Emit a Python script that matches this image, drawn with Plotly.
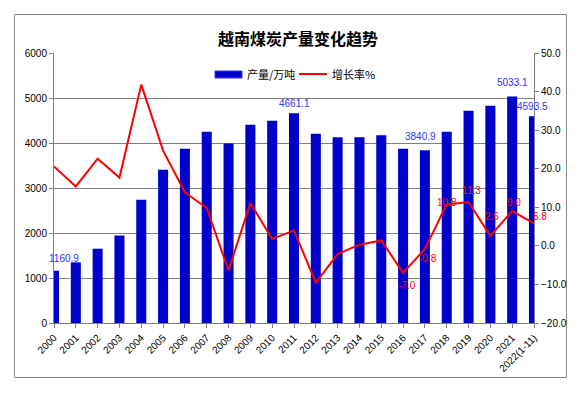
import plotly.graph_objects as go

years = ["2000", "2001", "2002", "2003", "2004", "2005", "2006", "2007", "2008", "2009",
         "2010", "2011", "2012", "2013", "2014", "2015", "2016", "2017", "2018", "2019",
         "2020", "2021", "2022(1-11)"]
output = [1160.9, 1347, 1651, 1947, 2740, 3407, 3873, 4251, 3991, 4407,
          4496, 4661.1, 4207, 4126, 4126, 4170, 3873, 3840.9, 4251, 4718,
          4829, 5033.1, 4593.5]
growth = [20.6, 15.4, 22.6, 17.7, 41.8, 24.7, 13.9, 9.8, -6.4, 11.1,
          1.8, 4.0, -9.6, -2.1, 0.3, 1.4, -7.0, -0.8, 10.8, 11.3,
          2.6, 9.0, 5.8]
bar_label_idx = [0, 11, 17, 21, 22]
line_label_idx = [16, 17, 18, 19, 20, 21, 22]

W, H = 582, 397
L, R, T, B = 54, 48, 53, 74
PW, PH = W - L - R, H - T - B

def px(x):
    return (x - L) / PW

def py(y):
    return (H - B - y) / PH

NUM_FONT = "Liberation Sans, Noto Sans CJK SC, sans-serif"
CJK_FONT = "Noto Sans CJK SC, sans-serif"
BLUE = "#0000CC"
RED = "#FF0000"

fig = go.Figure()
fig.add_trace(go.Bar(x=years, y=output, name="产量/万吨", marker=dict(color=BLUE, line=dict(width=0)),
                     yaxis="y", showlegend=False, hoverinfo="skip"))
fig.add_trace(go.Scatter(x=years, y=growth, name="增长率%", mode="lines",
                         line=dict(color=RED, width=2), yaxis="y2", showlegend=False, hoverinfo="skip"))

annotations = []
bar_offsets = {0: (10, 12), 11: (0, 10), 17: (-4, 14), 21: (0, 14), 22: (-2, 10)}
for i in bar_label_idx:
    dx, dy = bar_offsets[i]
    annotations.append(dict(x=i, y=output[i], xref="x", yref="y", text=f"{output[i]:.1f}",
                            showarrow=False, xshift=dx, yshift=dy,
                            font=dict(family=NUM_FONT, size=10, color="#3333FF")))
line_offsets = {16: (4, -13), 17: (3, -10), 18: (0, 2), 19: (3, 12), 20: (2, 19), 21: (2, 9), 22: (6, 7)}
for i in line_label_idx:
    dx, dy = line_offsets[i]
    annotations.append(dict(x=i, y=growth[i], xref="x", yref="y2", text=f"{growth[i]:.1f}",
                            showarrow=False, xshift=dx, yshift=dy,
                            font=dict(family=NUM_FONT, size=10, color=RED)))

# Title
annotations.append(dict(x=px(298), y=py(38), xref="paper", yref="paper", text="<b>越南煤炭产量变化趋势</b>",
                        showarrow=False, font=dict(family=CJK_FONT, size=16, color="black"),
                        xanchor="center", yanchor="middle"))
# Legend texts
annotations.append(dict(x=px(245), y=py(74), xref="paper", yref="paper", text="产量/万吨",
                        showarrow=False, xanchor="left", yanchor="middle",
                        font=dict(family=CJK_FONT, size=11, color="black")))
annotations.append(dict(x=px(330), y=py(74), xref="paper", yref="paper", text="增长率%",
                        showarrow=False, xanchor="left", yanchor="middle",
                        font=dict(family=CJK_FONT, size=11, color="black")))

shapes = [
    dict(type="rect", xref="paper", yref="paper", x0=px(14.5), x1=px(566.5), y0=py(14.5), y1=py(377.5),
         line=dict(color="#888888", width=1), fillcolor="rgba(0,0,0,0)", layer="below"),
    dict(type="rect", xref="paper", yref="paper", x0=px(215), x1=px(242), y0=py(71), y1=py(78),
         line=dict(color="#3333DD", width=1), fillcolor=BLUE),
    dict(type="line", xref="paper", yref="paper", x0=px(299), x1=px(327), y0=py(74), y1=py(74),
         line=dict(color=RED, width=2)),
]

fig.update_layout(
    width=W, height=H,
    margin=dict(l=L, r=R, t=T, b=B, pad=0, autoexpand=False),
    paper_bgcolor="white", plot_bgcolor="white",
    bargap=0.54,
    showlegend=False,
    hovermode=False,
    xaxis=dict(type="category", range=[0, len(years) - 1], tickangle=-45, automargin=False,
               showgrid=False, showline=True, linecolor="#808080", linewidth=1,
               ticks="outside", ticklen=4, tickcolor="#808080",
               tickfont=dict(family=NUM_FONT, size=10, color="black")),
    yaxis=dict(range=[0, 6000], dtick=1000, showgrid=True, gridcolor="#808080", gridwidth=1,
               automargin=False,
               showline=True, linecolor="#808080", linewidth=1, ticks="outside", ticklen=4,
               tickcolor="#808080", zeroline=False,
               tickfont=dict(family=NUM_FONT, size=10, color="black")),
    yaxis2=dict(range=[-20, 50], dtick=10, overlaying="y", side="right", showgrid=False,
                automargin=False,
                showline=True, linecolor="#808080", linewidth=1, ticks="outside", ticklen=4,
                tickcolor="#808080", zeroline=False, tickformat=".1f",
                tickfont=dict(family=NUM_FONT, size=10, color="black")),
    annotations=annotations,
    shapes=shapes,
)

fig.write_html("out.html", config={"displayModeBar": False, "staticPlot": True},
               post_script="document.body.style.margin='0';document.body.style.overflow='hidden';")
